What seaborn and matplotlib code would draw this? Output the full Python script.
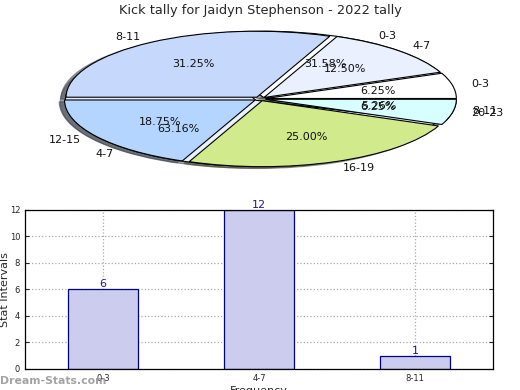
import matplotlib
matplotlib.use("Agg")
import matplotlib.pyplot as plt
import seaborn as sns
import pandas as pd

sns.set_style("white")
plt.rcParams['font.family'] = ['DejaVu Sans']

title = "Kick tally for Jaidyn Stephenson - 2022 tally"

# pie 1 (season tally)
pie1_labels = ["0-3", "4-7", "8-11", "12-15", "16-19", "20-23"]
pie1_values = [1, 2, 5, 3, 4, 1]
pie1_colors = ["#ffffff", "#eaf0fe", "#c6d9fd", "#b3d5ff", "#d0ea8c", "#d8ffff"]

# pie 2 / bars
bar_labels = ["0-3", "4-7", "8-11"]
bar_values = [6, 12, 1]
pie2_colors = ["#ffffff", "#eaf0fe", "#c6d9fd"]

fig = plt.figure(figsize=(5.2, 3.9), dpi=100)

# pie axes
axp = fig.add_axes([0.0415, 0.535, 0.917, 0.423])
for labels, values, colors in [(bar_labels, bar_values, pie2_colors),
                               (pie1_labels, pie1_values, pie1_colors)]:
    wedges, texts, autotexts = axp.pie(
        values, labels=labels, colors=colors, autopct="%.2f%%",
        explode=[0.03] * len(values), shadow=True, startangle=0,
        counterclock=True, labeldistance=1.1, pctdistance=0.6,
        wedgeprops=dict(edgecolor="black", linewidth=0.8),
        textprops=dict(fontsize=8, color="#111111"))
axp.set_aspect("auto")
axp.set_xlim(-1.25, 1.25)
axp.set_ylim(-1.25, 1.25)
axp.axis("off")
fig.text(0.5, 0.972, title, ha="center", va="center", fontsize=9.3)

# bar axes
axb = fig.add_axes([0.048, 0.054, 0.9, 0.408])
df = pd.DataFrame({"interval": bar_labels, "count": bar_values})
sns.barplot(data=df, x="interval", y="count", ax=axb, width=0.45,
            color="#ccccee", edgecolor="#000080", linewidth=0.9,
            saturation=1)
for i, v in enumerate(bar_values):
    axb.text(i, v, str(v), ha="center", va="bottom", color="#1a1aa0", fontsize=8)
axb.set_xlim(-0.5, 2.5)
axb.set_ylim(0, 12)
axb.set_yticks([0, 2, 4, 6, 8, 10, 12])
axb.grid(True, linestyle=":", color="#aaaaaa", linewidth=0.9)
axb.set_axisbelow(True)
axb.tick_params(axis="both", labelsize=6, direction="in", length=3,
                right=True, left=True, bottom=True)
axb.set_xlabel("Frequency", fontsize=8, labelpad=2)
axb.set_ylabel("Stat Intervals", fontsize=8)
axb.yaxis.set_label_coords(-0.031, 0.5)
for s in axb.spines.values():
    s.set_color("black")
    s.set_linewidth(0.9)

fig.text(0.0, 0.022, "Dream-Stats.com", color="#999999", fontsize=7.8,
         fontweight="bold", ha="left", va="center", alpha=0.9)

fig.savefig("out.png", dpi=100)
